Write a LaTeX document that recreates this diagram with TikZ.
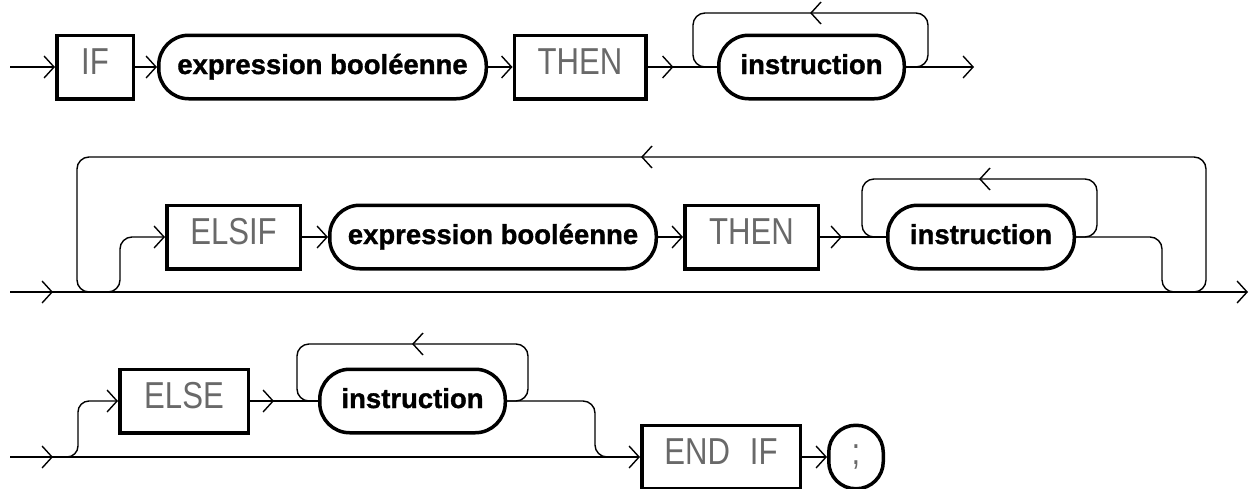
\documentclass[tikz,border=0pt]{standalone}
\usepackage{fontspec}
\setmainfont{Liberation Sans}
\newfontfamily\stadfont[FakeBold=1.2]{Liberation Sans Bold}
\usetikzlibrary{arrows.meta,decorations.markings}
\definecolor{kwgray}{RGB}{105,105,105}
% keyword text: light condensed grey capitals
\newcommand{\kwtext}[1]{\scalebox{0.83}[1]{\fontsize{37.5pt}{40pt}\selectfont #1}}
\begin{document}
\begin{tikzpicture}[x=1pt,y=-1pt,
  >={Straight Barb[length=10pt,width=22pt]},
  conn/.style={line width=1.4pt},
  loopline/.style={conn,rounded corners=12pt},
  kwbox/.style={draw,line width=3.5pt,rectangle,minimum height=63.5pt,inner sep=0pt,
    text=kwgray,text height=27pt,text depth=12pt},
  stadium/.style={draw,line width=3.5pt,rounded corners=30pt,minimum height=63.5pt,inner sep=0pt,
    font=\fontsize{27.5pt}{30pt}\stadfont,text height=20pt,text depth=6pt},
  tipat/.style={postaction={decorate,decoration={markings,mark=at position #1 with {\arrow{>}}}}},
  lchev/.pic={\draw[conn] (10,-11) -- (0,0) -- (10,11);}]
\useasboundingbox (0,0) rectangle (1252,488);

% ---------- IF ... THEN instruction
\coordinate (r1in) at (10,67);
\coordinate (r1out) at (974,67);
\node[kwbox,minimum width=76.5pt] (if) at (95,67) {\kwtext{IF}};
\node[stadium,minimum width=327.5pt] (bool1) at (322.5,67) {expression booléenne};
\node[kwbox,minimum width=131.5pt] (then1) at (580,67) {\kwtext{THEN}};
\node[stadium,minimum width=185.5pt] (ins1) at (811.5,67) {instruction};

\draw[conn,->] (r1in) -- (if.west);
\draw[conn,->] (if.east) -- (bool1.west);
\draw[conn,->] (bool1.east) -- (then1.west);
\draw[conn,tipat=26pt] (then1.east) -- (ins1.west);
\draw[loopline] (ins1.east) -| (928,13) -| (693,67) -- (ins1.west);
\pic at (811,13) {lchev};
\draw[conn,->] (ins1.east) -- (r1out);

% ---------- ELSIF ... THEN instruction (repeatable)
\coordinate (r2in) at (10,292);
\coordinate (r2out) at (1248,292);
\coordinate (r2split) at (100,292);
\coordinate (r2join) at (1180,292);
\coordinate (r2back) at (1185,292);
\coordinate (r2merge) at (95,292);
\node[kwbox,minimum width=133.5pt] (elsif) at (233.5,237) {\kwtext{ELSIF}};
\node[stadium,minimum width=326.5pt] (bool2) at (493,237) {expression booléenne};
\node[kwbox,minimum width=133.5pt] (then2) at (751.5,237) {\kwtext{THEN}};
\node[stadium,minimum width=186.5pt] (ins2) at (981,237) {instruction};

\draw[conn,->,tipat=43pt] (r2in) -- (r2out);
\draw[conn,->,rounded corners=12pt] (r2split) -| (120,237) -- (elsif.west);
\draw[conn,->] (elsif.east) -- (bool2.west);
\draw[conn,->] (bool2.east) -- (then2.west);
\draw[conn,tipat=22pt] (then2.east) -- (ins2.west);
\draw[loopline] (ins2.east) -| (1097,179) -| (862,237) -- (ins2.west);
\pic at (980,179) {lchev};
\draw[loopline] (ins2.east) -| (1162,292) -- (r2join);
\draw[loopline] (r2back) -| (1206,157) -| (77,292) -- (r2merge);
\pic at (642,157) {lchev};

% ---------- ELSE instruction, END IF ;
\coordinate (r3in) at (10,457);
\coordinate (r3split) at (60,457);
\coordinate (r3join) at (612,457);
\node[kwbox,minimum width=128.5pt] (else) at (184,401) {\kwtext{ELSE}};
\node[stadium,minimum width=185.5pt] (ins3) at (412.5,401) {instruction};
\node[kwbox,minimum width=158.5pt] (endif) at (721,457) {\kwtext{END\hspace{24pt}IF}};
\node[kwbox,rounded corners=27pt,minimum width=54.5pt,minimum height=63.5pt] (semi) at (856,457) {\kwtext{;}};

\draw[conn,->,tipat=43pt] (r3in) -- (endif.west);
\draw[conn,->,rounded corners=11pt] (r3split) -| (78,401) -- (else.west);
\draw[conn,tipat=24pt] (else.east) -- (ins3.west);
\draw[loopline] (ins3.east) -| (528,344) -| (297,401) -- (ins3.west);
\pic at (413,344) {lchev};
\draw[loopline] (ins3.east) -| (595,457) -- (r3join);
\draw[conn,->] (endif.east) -- (semi.west);
\end{tikzpicture}
\end{document}
